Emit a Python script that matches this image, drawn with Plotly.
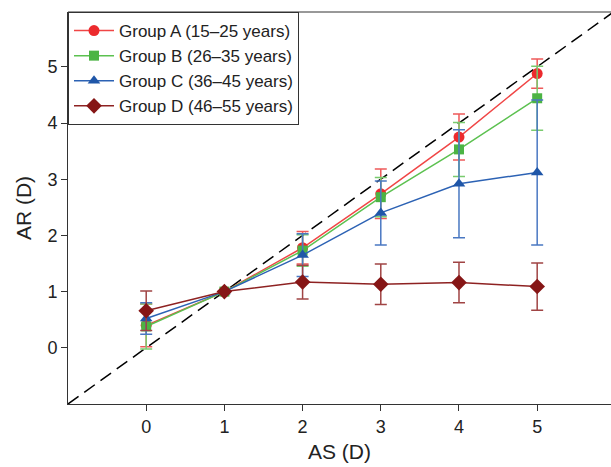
import plotly.graph_objects as go

x_vals = [0, 1, 2, 3, 4, 5]

group_names = ["Group A (15\u201325 years)", "Group B (26\u201335 years)",
               "Group C (36\u201345 years)", "Group D (46\u201355 years)"]

a_mean = [0.40, 1.00, 1.78, 2.74, 3.75, 4.88]
a_err = [0.38, 0.0, 0.29, 0.44, 0.41, 0.26]

b_mean = [0.38, 1.00, 1.73, 2.68, 3.53, 4.44]
b_err = [0.40, 0.0, 0.28, 0.35, 0.48, 0.57]

c_mean = [0.52, 1.00, 1.65, 2.40, 2.92, 3.12]
c_err = [0.28, 0.0, 0.38, 0.57, 0.96, 1.29]

d_mean = [0.66, 1.00, 1.17, 1.13, 1.16, 1.09]
d_err = [0.35, 0.0, 0.30, 0.36, 0.36, 0.42]

x_ticks = [0, 1, 2, 3, 4, 5]
y_ticks = [0, 1, 2, 3, 4, 5]
identity = [-1, 6]

font_family = "Liberation Sans, Arial, sans-serif"

styles = [
    dict(mean=a_mean, err=a_err, line="#f04646", marker="#ec2a2d", ecol="#ee5a5a", symbol="circle", size=11),
    dict(mean=b_mean, err=b_err, line="#5cc150", marker="#4cb444", ecol="#7acb6e", symbol="square", size=10),
    dict(mean=c_mean, err=c_err, line="#2c62b4", marker="#1f56a8", ecol="#4a78c2", symbol="triangle-up", size=11),
    dict(mean=d_mean, err=d_err, line="#8e2222", marker="#861616", ecol="#a04444", symbol="diamond", size=12),
]

fig = go.Figure()

fig.add_trace(go.Scatter(
    x=identity, y=identity, mode="lines",
    line=dict(color="black", width=1.5, dash="13px,7px"),
    showlegend=False, hoverinfo="skip"))

for name, s in zip(group_names, styles):
    fig.add_trace(go.Scatter(
        x=x_vals, y=s["mean"], name=name, mode="lines+markers",
        line=dict(color=s["line"], width=1.5),
        marker=dict(color=s["marker"], symbol=s["symbol"], size=s["size"]),
        error_y=dict(type="data", array=s["err"], visible=True,
                     color=s["ecol"], thickness=1.5, width=6),
    ))

axis_common = dict(
    showline=True, linecolor="#333333", linewidth=1,
    ticks="outside", ticklen=6, tickcolor="#333333", tickwidth=1,
    showgrid=False, zeroline=False,
    tickfont=dict(family=font_family, size=18, color="#222222"),
)

fig.update_xaxes(
    range=[-1, 5.944], tickvals=x_ticks, ticktext=[str(v) for v in x_ticks],
    title=dict(text="AS (D)", font=dict(family=font_family, size=21, color="#222222"), standoff=8),
    **axis_common)
fig.update_yaxes(
    range=[-1, 5.975], tickvals=y_ticks, ticktext=[str(v) for v in y_ticks],
    title=dict(text="AR (D)", font=dict(family=font_family, size=21, color="#222222"), standoff=10),
    **axis_common)

fig.add_shape(type="line", xref="paper", yref="paper", x0=0, x1=1, y0=1, y1=1,
              line=dict(color="#333333", width=1))

fig.update_layout(
    width=611, height=467,
    margin=dict(l=68, r=0, t=12, b=63),
    plot_bgcolor="white", paper_bgcolor="white",
    font=dict(family=font_family, color="#222222"),
    legend=dict(x=0, y=1, xanchor="left", yanchor="top",
                bgcolor="white", bordercolor="#333333", borderwidth=1,
                font=dict(family=font_family, size=17, color="#222222"),
                itemwidth=40, tracegroupgap=0),
)

fig.write_html("out.html")
